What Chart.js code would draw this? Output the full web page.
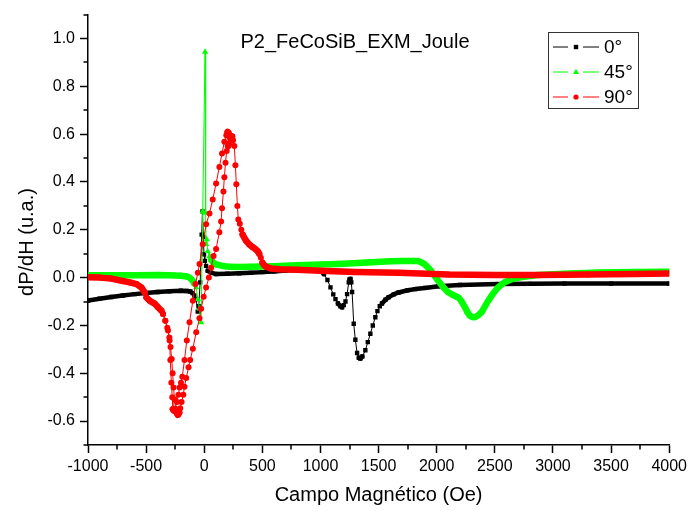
<!DOCTYPE html>
<html>
<head>
<meta charset="utf-8">
<script src="https://cdn.jsdelivr.net/npm/chart.js@4.4.0/dist/chart.umd.min.js"></script>
<style>
  html, body { margin: 0; padding: 0; background: #fff; }
  canvas { display: block; }
</style>
</head>
<body>
<canvas id="chart" width="691" height="511"></canvas>
<script>
// FMR derivative signal for three field angles
const chartTitle = 'P2_FeCoSiB_EXM_Joule';
const xTitle = 'Campo Magnético (Oe)';
const yTitle = 'dP/dH (u.a.)';
const seriesNames = ['0°', '45°', '90°'];

const xTicks = [-1000, -500, 0, 500, 1000, 1500, 2000, 2500, 3000, 3500, 4000];
const yTicks = [-0.6, -0.4, -0.2, 0.0, 0.2, 0.4, 0.6, 0.8, 1.0];

// 0°
const field0 = [-1000,-900,-800,-700,-600,-500,-400,-300,-200,-150,-120,-100,-85,-70,-56,-48,-35,-22,-15,-8,
  -2,5,16,30,59,100,200,300,400,500,600,700,758,850,950,1000,1030,1060,1086,1110,
  1129,1150,1172,1186,1200,1215,1229,1243,1250,1258,1265,1272,1286,1300,1315,1330,1343,1360,1386,1407,
  1429,1450,1472,1490,1510,1529,1560,1586,1630,1672,1750,1814,1900,2014,2200,2527,2800,3099,3500,4000];
const dpdh0 = [-0.096,-0.088,-0.081,-0.075,-0.069,-0.064,-0.060,-0.057,-0.055,-0.056,-0.058,-0.065,-0.075,-0.090,-0.142,-0.120,-0.020,0.180,0.277,0.170,
  0.098,0.070,0.049,0.028,0.021,0.015,0.016,0.018,0.020,0.023,0.026,0.030,0.032,0.033,0.031,0.028,0.015,-0.010,-0.041,-0.070,
  -0.090,-0.108,-0.120,-0.124,-0.115,-0.100,-0.069,-0.020,-0.008,-0.005,-0.020,-0.060,-0.193,-0.260,-0.315,-0.335,-0.339,-0.330,-0.304,-0.270,
  -0.235,-0.200,-0.166,-0.140,-0.120,-0.108,-0.092,-0.082,-0.070,-0.062,-0.053,-0.048,-0.043,-0.036,-0.031,-0.027,-0.026,-0.025,-0.025,-0.025];

// 45°
const field45 = [-1000,-800,-600,-400,-300,-200,-150,-127,-110,-98,-85,-69,-56,-41,-27,-13,7,12,16,22,
  30,45,59,80,102,150,216,300,400,600,800,1000,1200,1400,1600,1700,1758,1800,1843,1890,
  1929,1970,2014,2060,2100,2150,2186,2215,2243,2265,2285,2305,2328,2355,2385,2415,2442,2480,2527,2580,
  2642,2750,2870,3100,3384,3700,4000];
const dpdh45 = [0.010,0.010,0.010,0.011,0.010,0.008,0.005,0.000,-0.007,-0.014,-0.025,-0.041,-0.090,-0.130,-0.187,0.277,0.944,0.270,0.140,0.160,
  0.110,0.090,0.075,0.062,0.055,0.050,0.045,0.044,0.045,0.048,0.052,0.055,0.058,0.063,0.068,0.070,0.070,0.070,0.069,0.058,
  0.041,0.015,-0.014,-0.042,-0.062,-0.075,-0.083,-0.100,-0.124,-0.145,-0.159,-0.165,-0.166,-0.158,-0.145,-0.120,-0.097,-0.070,-0.041,-0.020,
  -0.007,0.004,0.011,0.016,0.021,0.023,0.025];

// 90°, full sweep
const field90 = [-1000,-900,-800,-700,-640,-583,-540,-512,-497,-469,-426,-398,-369,-355,-335,-312,-298,-292,-283,-275,
  -270,-262,-250,-235,-222,-212,-200,-189,-170,-150,-127,-98,-75,-55,-41,-13,16,45,73,102,
  130,153,173,190,201,208,216,224,232,240,248,259,268,276,285,293,306,319,330,359,
  387,415,444,460,473,487,501,515,530,573,650,800,1000,1300,1672,2100,2500,2870,3300,3700,
  4000];
const dpdh90 = [0.002,0.000,-0.004,-0.014,-0.020,-0.027,-0.041,-0.062,-0.083,-0.097,-0.109,-0.124,-0.138,-0.152,-0.180,-0.221,-0.263,-0.345,-0.440,-0.500,
  -0.550,-0.556,-0.550,-0.520,-0.490,-0.460,-0.440,-0.415,-0.345,-0.263,-0.187,-0.097,-0.027,0.020,0.057,0.140,0.223,0.268,0.327,0.394,
  0.463,0.519,0.568,0.595,0.609,0.606,0.590,0.585,0.590,0.590,0.575,0.550,0.470,0.390,0.300,0.243,0.225,0.200,0.180,0.155,
  0.139,0.128,0.118,0.110,0.100,0.083,0.062,0.052,0.046,0.038,0.035,0.033,0.029,0.024,0.020,0.013,0.011,0.011,0.013,0.015,
  0.017];

// 90°, second pass through the resonance
const field90b = [-355,-335,-318,-300,-290,-280,-272,-264,-255,-245,-235,-227,-215,-207,
  -195,-180,-170,-155,-135,-121,-98,-69,-41,-27,-5,16,40,59,80,102,130,145,153,165,
  173,183,193,205,216,228,240];
const dpdh90b = [-0.152,-0.180,-0.210,-0.250,-0.290,-0.340,-0.400,-0.460,-0.510,-0.550,-0.568,-0.574,-0.565,-0.546,
  -0.520,-0.490,-0.456,-0.420,-0.375,-0.345,-0.297,-0.228,-0.170,-0.130,-0.080,-0.041,0.000,0.041,0.090,0.120,0.190,0.235,0.290,0.360,
  0.420,0.480,0.530,0.550,0.560,0.575,0.590];

const FONT = '"Liberation Sans", Arial, sans-serif';

function points(xs, ys) {
  return xs.map((v, i) => ({ x: v, y: ys[i] }));
}

// flat stretches are drawn as a thick band (overlapping markers), steep ones as a thin line
function bandWidth(thick, limit) {
  return ctx => {
    const dx = Math.abs(ctx.p1.x - ctx.p0.x);
    const dy = Math.abs(ctx.p1.y - ctx.p0.y);
    return dy <= limit * dx ? thick : 1;
  };
}

function lineSet(data, color, style, radius, thick, limit, order) {
  return {
    data: data,
    showLine: true,
    borderColor: color,
    backgroundColor: color,
    borderWidth: 1,
    borderCapStyle: 'round',
    borderJoinStyle: 'round',
    pointStyle: style,
    pointRadius: radius,
    pointBorderWidth: 0,
    pointBackgroundColor: color,
    segment: { borderWidth: bandWidth(thick, limit) },
    order: order
  };
}

function drawMarker(ctx, style, x, y) {
  ctx.beginPath();
  if (style === 'rect') {
    ctx.rect(x - 2.2, y - 2.2, 4.4, 4.4);
  } else if (style === 'triangle') {
    ctx.moveTo(x, y - 3.2);
    ctx.lineTo(x + 3, y + 2);
    ctx.lineTo(x - 3, y + 2);
    ctx.closePath();
  } else {
    ctx.arc(x, y, 2.6, 0, Math.PI * 2);
  }
  ctx.fill();
}

const decorations = {
  id: 'decorations',
  afterDraw(chart) {
    const { ctx, chartArea } = chart;
    const xs = chart.scales.x, ys = chart.scales.y;
    ctx.save();

    // minor ticks halfway between the labelled ones
    ctx.strokeStyle = '#000';
    ctx.lineWidth = 1.5;
    const xStep = xTicks[1] - xTicks[0];
    const yStep = yTicks[1] - yTicks[0];
    ctx.beginPath();
    xTicks.slice(0, -1).forEach(v => {
      const px = Math.round(xs.getPixelForValue(v + xStep / 2));
      ctx.moveTo(px, chartArea.bottom);
      ctx.lineTo(px, chartArea.bottom + 4.5);
    });
    [yTicks[0] - yStep / 2].concat(yTicks.map(v => v + yStep / 2)).forEach(v => {
      const py = Math.round(ys.getPixelForValue(v));
      ctx.moveTo(chartArea.left, py);
      ctx.lineTo(chartArea.left - 4.5, py);
    });
    ctx.stroke();

    // titles
    ctx.fillStyle = '#000';
    ctx.textAlign = 'center';
    ctx.textBaseline = 'middle';
    ctx.font = '20px ' + FONT;
    ctx.fillText(chartTitle, 355, 42);
    ctx.fillText(xTitle, (chartArea.left + chartArea.right) / 2, 495);
    ctx.save();
    ctx.translate(27, 242);
    ctx.rotate(-Math.PI / 2);
    ctx.fillText(yTitle, 0, 0);
    ctx.restore();

    // legend box
    const box = { x: 548, y: 32, w: 90, h: 76 };
    ctx.fillStyle = '#fff';
    ctx.fillRect(box.x, box.y, box.w, box.h);
    ctx.strokeStyle = '#333';
    ctx.lineWidth = 1;
    ctx.strokeRect(box.x + 0.5, box.y + 0.5, box.w, box.h);
    const legendSets = [chart.data.datasets[0], chart.data.datasets[1], chart.data.datasets[2]];
    ctx.font = '19px ' + FONT;
    ctx.textAlign = 'left';
    legendSets.forEach((ds, i) => {
      const cy = 47 + i * 25;
      ctx.strokeStyle = ds.borderColor;
      ctx.lineWidth = 1;
      ctx.beginPath();
      ctx.moveTo(553, cy);
      ctx.lineTo(568, cy);
      ctx.moveTo(583, cy);
      ctx.lineTo(599, cy);
      ctx.stroke();
      ctx.fillStyle = ds.borderColor;
      drawMarker(ctx, ds.pointStyle, 576, cy);
      ctx.fillStyle = '#000';
      ctx.fillText(seriesNames[i], 604, cy + 1);
    });
    ctx.restore();
  }
};

const tickFont = { family: FONT, size: 16 };

new Chart(document.getElementById('chart'), {
  type: 'scatter',
  data: {
    datasets: [
      lineSet(points(field0, dpdh0), '#000000', 'rect', 3.1, 4.5, 1.2, 2),
      lineSet(points(field45, dpdh45), '#00ff00', 'triangle', 3.6, 6.5, 2.0, 1),
      lineSet(points(field90, dpdh90), '#ff0000', 'circle', 3, 6.5, 2.0, 0),
      lineSet(points(field90b, dpdh90b), '#ff0000', 'circle', 3, 6.5, 2.0, 0)
    ]
  },
  options: {
    responsive: false,
    animation: false,
    layout: { padding: { top: 12, right: 19, left: 0, bottom: 0 } },
    plugins: {
      legend: { display: false },
      tooltip: { enabled: false }
    },
    scales: {
      x: {
        type: 'linear',
        min: -1000,
        max: 4000,
        afterBuildTicks: scale => { scale.ticks = xTicks.map(v => ({ value: v })); },
        afterFit: scale => { scale.height = 66; },
        ticks: { color: '#000', font: tickFont, padding: 4, maxRotation: 0, autoSkip: false,
                 callback: v => String(v) },
        grid: { drawOnChartArea: false, drawTicks: true, tickLength: 8, tickWidth: 1.5, tickColor: '#000' },
        border: { display: true, color: '#000', width: 1.5 }
      },
      y: {
        type: 'linear',
        min: -0.7,
        max: 1.1,
        afterBuildTicks: scale => { scale.ticks = yTicks.map(v => ({ value: v })); },
        afterFit: scale => { scale.width = 88; },
        ticks: { color: '#000', font: tickFont, padding: 5, autoSkip: false,
                 callback: v => v.toFixed(1) },
        grid: { drawOnChartArea: false, drawTicks: true, tickLength: 8, tickWidth: 1.5, tickColor: '#000' },
        border: { display: true, color: '#000', width: 1.5 }
      }
    }
  },
  plugins: [decorations]
});
</script>
</body>
</html>
